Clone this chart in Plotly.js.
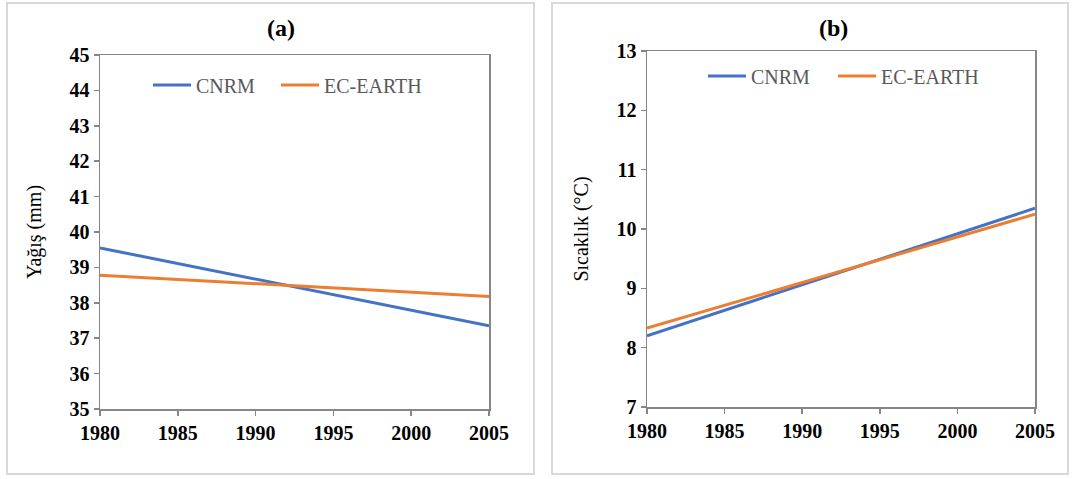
<!DOCTYPE html>
<html>
<head>
<meta charset="utf-8">
<script src="https://cdn.plot.ly/plotly-3.0.1.min.js"></script>
<style>html,body{margin:0;padding:0;background:#fff;}#chart{width:1076px;height:479px;}</style>
</head>
<body>
<div id="chart"></div>
<script>
// Trend line endpoints
const years = [1980, 2005];
const seriesNames = ["CNRM", "EC-EARTH"];
const precipCNRM = [39.55, 37.35];
const precipEC = [38.78, 38.18];
const tempCNRM = [8.2, 10.35];
const tempEC = [8.33, 10.25];
const xTicks = [1980, 1985, 1990, 1995, 2000, 2005];
const yTicksA = [35, 36, 37, 38, 39, 40, 41, 42, 43, 44, 45];
const yTicksB = [7, 8, 9, 10, 11, 12, 13];
const panelTitles = ["(a)", "(b)"];
const yTitles = ["Yağış (mm)", "Sıcaklık (°C)"];

const blue = "#4472C4", orange = "#ED7D31";
const W = 1076, H = 479;
const px = v => v / W, py = v => 1 - v / H;
const serif = "Liberation Serif";

const traces = [
  {x: years, y: precipCNRM, name: seriesNames[0], mode: "lines", line: {color: blue, width: 3}, xaxis: "x", yaxis: "y", legend: "legend"},
  {x: years, y: precipEC, name: seriesNames[1], mode: "lines", line: {color: orange, width: 3}, xaxis: "x", yaxis: "y", legend: "legend2"},
  {x: years, y: tempCNRM, name: seriesNames[0], mode: "lines", line: {color: blue, width: 3}, xaxis: "x2", yaxis: "y2", legend: "legend3"},
  {x: years, y: tempEC, name: seriesNames[1], mode: "lines", line: {color: orange, width: 3}, xaxis: "x2", yaxis: "y2", legend: "legend4"}
];

const axisCommon = {
  showline: true, linecolor: "#868686", linewidth: 1.5, mirror: true,
  showgrid: false, zeroline: false, ticks: "outside", ticklen: 5, tickcolor: "#868686", tickwidth: 1.5,
  tickfont: {family: serif, size: 20, color: "#000", weight: "bold"}, fixedrange: true
};

const legendCommon = {
  orientation: "h", bgcolor: "rgba(0,0,0,0)", font: {family: serif, size: 20, color: "#595959"},
  xanchor: "left", yanchor: "middle", itemwidth: 38
};

const layout = {
  width: W, height: H,
  margin: {l: 0, r: 0, t: 0, b: 0},
  paper_bgcolor: "#fff", plot_bgcolor: "#fff",
  font: {family: serif},
  showlegend: true,
  xaxis: Object.assign({}, axisCommon, {domain: [px(100), px(489)], range: [1980, 2005], tickvals: xTicks, anchor: "y"}),
  yaxis: Object.assign({}, axisCommon, {domain: [py(409), py(55)], range: [35, 45], tickvals: yTicksA, anchor: "x",
    title: {text: yTitles[0], font: {family: serif, size: 20, color: "#000"}, standoff: 22}}),
  xaxis2: Object.assign({}, axisCommon, {domain: [px(647), px(1035)], range: [1980, 2005], tickvals: xTicks, anchor: "y2"}),
  yaxis2: Object.assign({}, axisCommon, {domain: [py(407), py(51)], range: [7, 13], tickvals: yTicksB, anchor: "x2",
    title: {text: yTitles[1], font: {family: serif, size: 20, color: "#000"}, standoff: 22}}),
  legend: Object.assign({}, legendCommon, {x: px(148), y: py(85)}),
  legend2: Object.assign({}, legendCommon, {x: px(276), y: py(85)}),
  legend3: Object.assign({}, legendCommon, {x: px(703), y: py(76)}),
  legend4: Object.assign({}, legendCommon, {x: px(833), y: py(76)}),
  annotations: [
    {text: panelTitles[0], x: px(281), y: py(28), xref: "paper", yref: "paper", showarrow: false,
     font: {family: serif, size: 24, color: "#000", weight: "bold"}, xanchor: "center", yanchor: "middle"},
    {text: panelTitles[1], x: px(833), y: py(28), xref: "paper", yref: "paper", showarrow: false,
     font: {family: serif, size: 24, color: "#000", weight: "bold"}, xanchor: "center", yanchor: "middle"}
  ],
  shapes: [
    {type: "rect", xref: "paper", yref: "paper", x0: px(7), x1: px(534), y0: py(474), y1: py(3), line: {color: "#d9d9d9", width: 2}},
    {type: "rect", xref: "paper", yref: "paper", x0: px(552), x1: px(1068), y0: py(474), y1: py(3), line: {color: "#d9d9d9", width: 2}}
  ]
};

Plotly.newPlot("chart", traces, layout, {displayModeBar: false, staticPlot: true});
</script>
</body>
</html>
